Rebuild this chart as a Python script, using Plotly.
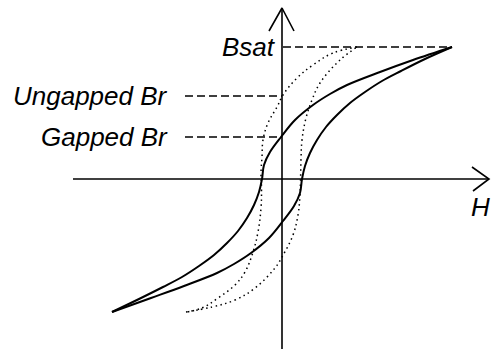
#%% IMPORTS
import plotly.graph_objects as go

#%% DATA (H, B in drawing units, origin at the axes crossing)
# gapped core - solid loop
gappedDownH = [170, 131, 98, 65, 48, 31, 13, -1, -12, -18, -20, -23, -28, -35, -44, -55, -68, -83, -100, -119, -143, -170]
gappedDownB = [132, 119, 107, 94, 85, 74, 59, 42, 27, 14, 0, -13, -26, -39, -52, -64, -76, -87, -98, -108, -120, -133]
gappedUpH = [-170, -131, -98, -65, -48, -31, -13, 1, 12, 18, 20, 23, 28, 35, 44, 55, 68, 83, 100, 119, 143, 170]
gappedUpB = [-133, -119, -107, -94, -85, -74, -59, -42, -27, -14, 0, 13, 26, 39, 52, 64, 76, 87, 98, 108, 120, 132]

# ungapped core - dotted loop
ungappedDownH = [75, 51, 31, 15, 1, -5, -14, -19, -20, -21, -20.5, -21, -24, -29, -37, -47, -64, -80, -96]
ungappedDownB = [132, 126, 114, 101, 84, 72, 56, 39, 22, 6, -9, -29, -53, -73, -93, -106, -119, -129, -133]
ungappedUpH = [-96, -70, -47, -27, -7, 0, 11, 16, 18, 18.5, 19, 20, 24, 30, 38, 58, 75]
ungappedUpB = [-133, -128, -121, -109, -89, -78, -56, -36, -16, -2, 19, 39, 61, 79, 96, 119, 132]

# reference levels
levelNames = ['Bsat', 'Ungapped Br', 'Gapped Br']
levelB = [132, 83, 42]
levelStartH = [1, -97, -97]
levelEndH = [170, 0, 0]

# axes with arrow heads
hAxisH = [-209, 207, None, 190, 207, 191]
hAxisB = [0, 0, None, 12, 0, -12]
vAxisH = [0, 0, None, -13, 0, 12]
vAxisB = [-172, 171, None, 148, 171, 148]

#%% FIGURE
fig = go.Figure()

black = 'black'

fig.add_trace(go.Scatter(x=hAxisH, y=hAxisB, mode='lines',
    line=dict(color=black, width=1.6)))
fig.add_trace(go.Scatter(x=vAxisH, y=vAxisB, mode='lines',
    line=dict(color=black, width=1.6)))

for name, b, h0, h1 in zip(levelNames, levelB, levelStartH, levelEndH):
    fig.add_trace(go.Scatter(x=[h0, h1], y=[b, b], mode='lines',
        line=dict(color=black, width=1.3, dash='8px,4px')))

for hs, bs in [(ungappedDownH, ungappedDownB), (ungappedUpH, ungappedUpB)]:
    fig.add_trace(go.Scatter(x=hs, y=bs, mode='lines',
        line=dict(color=black, width=1.5, dash='1.5px,3.5px', shape='spline', smoothing=1.1)))

for hs, bs in [(gappedDownH, gappedDownB), (gappedUpH, gappedUpB)]:
    fig.add_trace(go.Scatter(x=hs, y=bs, mode='lines',
        line=dict(color=black, width=2, shape='spline', smoothing=1)))

labelFont = dict(family='Liberation Sans, Arial, sans-serif', size=26, color=black, style='italic')
labelH = [-4, -112, -112]
for name, b, h in zip(levelNames, levelB, labelH):
    fig.add_annotation(x=h, y=b, text=name, showarrow=False,
        xanchor='right', yanchor='middle', font=labelFont)
fig.add_annotation(x=198, y=-28, text='H', showarrow=False,
    xanchor='center', yanchor='middle', font=labelFont)

fig.update_layout(
    width=493, height=349,
    margin=dict(l=0, r=0, t=0, b=0),
    showlegend=False,
    paper_bgcolor='white', plot_bgcolor='white',
    xaxis=dict(range=[-282, 211], visible=False, fixedrange=True),
    yaxis=dict(range=[-170, 179], visible=False, fixedrange=True))

fig.write_html('out.html', config={'displayModeBar': False},
    post_script="document.body.style.margin='0px';")
